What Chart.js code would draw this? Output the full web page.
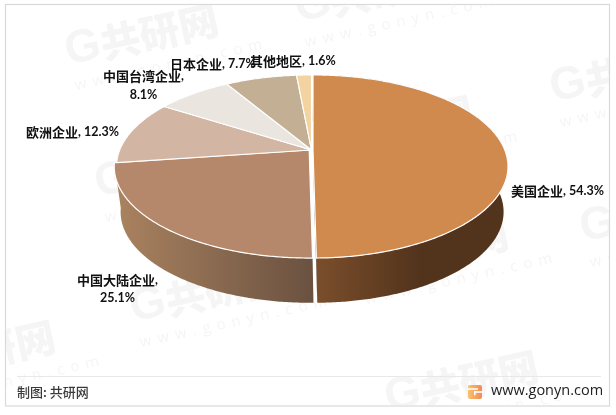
<!DOCTYPE html>
<html><head><meta charset="utf-8">
<style>html,body{margin:0;padding:0;background:#fff}canvas{display:block}</style>
<script src="https://cdn.jsdelivr.net/npm/chart.js@4"></script>
</head><body><canvas id="c" width="616" height="415"></canvas>
<script>
const categories = ["美国企业","中国大陆企业","欧洲企业","中国台湾企业","日本企业","其他地区"];
const values = [54.3,25.1,12.3,8.1,7.7,1.6];
const topColors = ["#d08a4e","#b5886b","#d2b6a3","#ebe5e0","#c2af94","#f3d3a0"];
const wallColors = [["#7a4e2b","#52331c"],["#a9825f","#6a5140"],["#a9825f","#a9825f"],["#a09080","#a09080"],["#8d7d66","#8d7d66"],["#b89c70","#b89c70"]];
const wallRanges = [[318,420],[120,313],[110,130],[0,616],[0,616],[0,616]];
const sliceShift = [1.5,-2.3,0,0,0,0];
// label layout: left x (or centre x when two lines), centre y of each line
const labelLayout = [
 {x:511,y:191},{x:117.5,y:280,y2:298},{x:26,y:132},{x:143.5,y:76,y2:95},{x:170,y:64},{x:250,y:61}
];
const watermarks = [[85,48],[315,5],[115,180],[340,140],[570,85],[-78,365],[150,305],[375,262],[600,225],[405,395]];
const footerLeft = "制图: 共研网", footerRight = "www.gonyn.com";

const P = 0.18;
const topFace = {cx:311.5,y0:150,A:191.8,B:88.6};
const botFace = {cx:312.5,y0:195.5,A:186.5,B:88};
function proj(f,a,r,dx){const u=Math.cos(a)*r,v=Math.sin(a)*r,w=1-P*v;return [f.cx+dx+f.A*u/w,f.y0+f.B*v/w];}
function arcPts(f,s,e,dx){const n=Math.max(2,Math.ceil((e-s)/0.01));const o=[];for(let i=0;i<=n;i++)o.push(proj(f,s+(e-s)*i/n,1,dx));return o;}
function poly(ctx,pts){ctx.beginPath();pts.forEach((p,i)=>i?ctx.lineTo(p[0],p[1]):ctx.moveTo(p[0],p[1]));ctx.closePath();}

const pie3d = {
 id:'pie3d',
 beforeDraw(chart){
  const ctx=chart.ctx;ctx.save();
  ctx.fillStyle='#fff';ctx.fillRect(0,0,616,415);
  ctx.beginPath();ctx.rect(6,5,603,400);ctx.clip();
  watermarks.forEach(m=>{
   ctx.save();ctx.translate(m[0],m[1]);ctx.rotate(-12.5*Math.PI/180);
   ctx.fillStyle='#f5f5f5';ctx.textBaseline='middle';ctx.textAlign='left';
   ctx.font='900 46px "Liberation Sans"';ctx.fillText('G',-20,0);
   ctx.font='900 40px "Noto Sans CJK SC"';ctx.fillText('共研网',16,0);
   ctx.font='400 15px "Open Sans"';ctx.letterSpacing='6.3px';ctx.fillText(footerRight,-18,35);ctx.letterSpacing='0px';
   ctx.restore();
  });
  ctx.restore();
  // frame and footer
  ctx.save();
  ctx.strokeStyle='#d9d9d9';ctx.lineWidth=1.2;ctx.strokeRect(5.5,4.5,604,401.5);
  ctx.strokeStyle='#e8e8e8';ctx.lineWidth=1;ctx.beginPath();ctx.moveTo(17,376.5);ctx.lineTo(601,376.5);ctx.stroke();
  ctx.fillStyle='#3a3a3a';ctx.textBaseline='middle';ctx.textAlign='left';
  ctx.font='500 13px "Noto Sans CJK SC"';ctx.fillText(footerLeft,17,392.5);
  ctx.fillStyle='#222';ctx.font='400 14.5px "Open Sans"';ctx.fillText(footerRight,491,391);
  const g=ctx.createLinearGradient(468,0,482,0);g.addColorStop(0,'#f9c46b');g.addColorStop(1,'#f08a5a');
  ctx.fillStyle=g;ctx.beginPath();ctx.roundRect(468,385,14,14,2);ctx.fill();
  ctx.fillStyle='#fff';ctx.fillRect(468,388.2,10,1.6);ctx.fillRect(474,391.2,8,1.6);ctx.fillRect(474,391.2,1.6,4);
  ctx.restore();
 },
 beforeDatasetsDraw(chart){
  const ctx=chart.ctx,arcs=chart.getDatasetMeta(0).data;
  ctx.save();
  [2,3,4,5,1,0].forEach(i=>{
   const el=arcs[i],dx=sliceShift[i];
   const grad=ctx.createLinearGradient(wallRanges[i][0],0,wallRanges[i][1],0);
   grad.addColorStop(0,wallColors[i][0]);grad.addColorStop(1,wallColors[i][1]);
   const t=arcPts(topFace,el.startAngle,el.endAngle,dx),b=arcPts(botFace,el.startAngle,el.endAngle,dx).reverse();
   ctx.fillStyle=grad;poly(ctx,t.concat(b));ctx.fill();
   if(i===0){
    const r=proj(topFace,el.startAngle,0,dx),s=proj(topFace,el.endAngle,1,dx),q=proj(botFace,el.endAngle,1,dx),o=proj(botFace,el.startAngle,0,dx);
    ctx.fillStyle='#3e2a18';poly(ctx,[r,s,q,o]);ctx.fill();
   }
  });
  ctx.lineJoin='round';
  [1,2,3,4,5,0].forEach(i=>{
   const el=arcs[i],dx=sliceShift[i];
   const pts=[proj(topFace,0,0,dx)].concat(arcPts(topFace,el.startAngle,el.endAngle,dx));
   poly(ctx,pts);ctx.fillStyle=el.options.backgroundColor;ctx.fill();
   ctx.strokeStyle='#fff';ctx.lineWidth=1.2;ctx.stroke();
  });
  ctx.restore();
  return false;
 },
 afterDraw(chart){
  const ctx=chart.ctx;ctx.save();ctx.fillStyle='#111';ctx.textBaseline='middle';ctx.textAlign='left';
  const cjk='700 13px "Noto Sans CJK SC"',lat='700 12.5px Lato';
  const w=(t,f)=>{ctx.font=f;return ctx.measureText(t).width;};
  const put=(t,f,x,y)=>{ctx.font=f;ctx.fillText(t,x,y);};
  categories.forEach((name,i)=>{
   const L=labelLayout[i],val=values[i].toFixed(1)+'%',nw=w(name,cjk);
   if(L.y2!==undefined){
    const x=L.x-(nw+w(',',lat))/2;
    put(name,cjk,x,L.y);
    put(',',lat,x+nw,L.y);
    put(val,lat,L.x-w(val,lat)/2,L.y2);
   }else{
    put(name,cjk,L.x,L.y);
    put(', '+val,lat,L.x+nw,L.y);
   }
  });
  ctx.restore();
 }
};
new Chart(document.getElementById('c'),{
 type:'pie',
 data:{labels:categories,datasets:[{data:values,backgroundColor:topColors,borderColor:'#fff',borderWidth:1}]},
 options:{responsive:false,animation:false,plugins:{legend:{display:false},tooltip:{enabled:false}}},
 plugins:[pie3d]
});
</script></body></html>
